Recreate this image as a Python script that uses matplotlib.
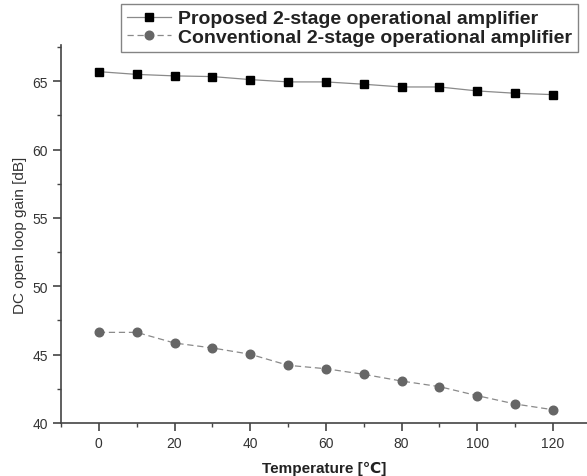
import matplotlib
matplotlib.use('Agg')
import matplotlib.pyplot as plt
from matplotlib.ticker import MultipleLocator

# Data
temperature = [0, 10, 20, 30, 40, 50, 60, 70, 80, 90, 100, 110, 120]
proposed_gain = [65.70, 65.50, 65.39, 65.34, 65.12, 64.95, 64.95,
                 64.78, 64.58, 64.58, 64.29, 64.12, 64.02]
conventional_gain = [46.63, 46.63, 45.85, 45.49, 45.03, 44.22, 43.97,
                     43.56, 43.07, 42.66, 42.00, 41.39, 40.97]

plt.rcParams['font.family'] = ['Liberation Sans', 'DejaVu Sans']

fig = plt.figure(figsize=(5.87, 4.77), dpi=100)
ax = fig.add_axes([61 / 587, 53 / 477, 526 / 587, 378 / 477])

ax.plot(temperature, proposed_gain, color='#8a8a8a', linewidth=0.9,
        marker='s', markersize=6.2, markerfacecolor='black',
        markeredgecolor='black', label='Proposed 2-stage operational amplifier')
ax.plot(temperature, conventional_gain, color='#8a8a8a', linewidth=0.9,
        linestyle=(0, (5, 3)), marker='o', markersize=6.2,
        markerfacecolor='#666666', markeredgecolor='#666666',
        label='Conventional 2-stage operational amplifier')

ax.set_xlim(-10, 129)
ax.set_ylim(40, 67.65)
ax.xaxis.set_major_locator(MultipleLocator(20))
ax.xaxis.set_minor_locator(MultipleLocator(10))
ax.yaxis.set_major_locator(MultipleLocator(5))
ax.yaxis.set_minor_locator(MultipleLocator(2.5))

for side in ['top', 'right']:
    ax.spines[side].set_visible(False)
for side in ['left', 'bottom']:
    ax.spines[side].set_color('#444444')
    ax.spines[side].set_linewidth(1.2)

ax.tick_params(which='major', direction='out', length=6, width=1.2,
               color='#444444', labelsize=10, labelcolor='#333333')
ax.tick_params(which='minor', direction='out', length=3, width=1.0,
               color='#444444')

ax.set_ylabel('DC open loop gain [dB]', fontsize=11, color='#333333')
# x label sits at the very bottom edge, as in the reference
fig.text(324 / 587, 0.002, 'Temperature [\u2103]', fontsize=11,
         fontweight='bold', color='#222222', ha='center', va='bottom')

leg = ax.legend(loc='upper right', bbox_to_anchor=(578 / 587, 1 - 5 / 477),
                bbox_transform=fig.transFigure, frameon=True, fancybox=False,
                prop={'weight': 'bold', 'size': 14}, handlelength=2.3,
                borderpad=0.3, labelspacing=0.05, handletextpad=0.35,
                borderaxespad=0.0)
leg.get_frame().set_edgecolor('#666666')
leg.get_frame().set_linewidth(1.0)
for t in leg.get_texts():
    t.set_color('#222222')

fig.savefig('out.png', dpi=100)
